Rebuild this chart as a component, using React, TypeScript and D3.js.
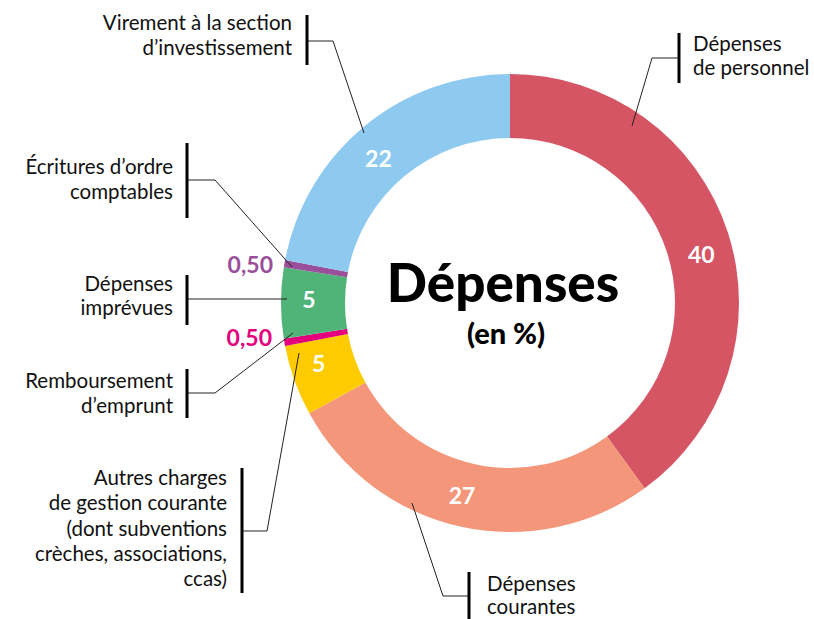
import React from "react";
import * as d3 from "d3";

// ---- data ----
const categories = [
  "Dépenses de personnel",
  "Dépenses courantes",
  "Autres charges de gestion courante",
  "Remboursement d’emprunt",
  "Dépenses imprévues",
  "Écritures d’ordre comptables",
  "Virement à la section d’investissement",
];
const values = [40, 27, 5, 0.5, 5, 0.5, 22];
const valueLabels = ["40", "27", "5", "0,50", "5", "0,50", "22"];
const colors = ["#d55564", "#f3967a", "#fecb00", "#e4007c", "#50b478", "#9a4f9b", "#8ecaf0"];

const callouts = [
  { lines: ["Virement à la section", "d’investissement"], anchor: "end", x: 292, base: [30, 55], bar: [307, 15, 65], leader: [[307, 41], [333, 41], [364, 133]] },
  { lines: ["Écritures d’ordre", "comptables"], anchor: "end", x: 173, base: [174, 199], bar: [187, 143, 218], leader: [[187, 180], [215, 180], [292, 267]] },
  { lines: ["Dépenses", "imprévues"], anchor: "end", x: 173, base: [291, 315], bar: [187, 275, 325], leader: [[187, 299], [287, 299]] },
  { lines: ["Remboursement", "d’emprunt"], anchor: "end", x: 173, base: [388, 413], bar: [187, 369, 418], leader: [[187, 393], [215, 393], [293, 333]] },
  { lines: ["Autres charges", "de gestion courante", "(dont subventions", "crèches, associations,", "ccas)"], anchor: "end", x: 227, base: [485, 510, 536, 561, 586], bar: [242, 468, 593], leader: [[242, 531], [267, 531], [299, 353]] },
  { lines: ["Dépenses", "courantes"], anchor: "start", x: 487, base: [591, 614], bar: [469, 572, 619], leader: [[469, 596], [443, 596], [412, 503]] },
  { lines: ["Dépenses", "de personnel"], anchor: "start", x: 693, base: [51, 75], bar: [679, 33, 83], leader: [[679, 58], [652, 58], [632, 126]] },
];

// outside small-value labels (index -> position)
const outsideLabels: Record<number, { x: number; y: number }> = {
  3: { x: 272, y: 346 },
  5: { x: 273, y: 273 },
};
const labelNudge: Record<number, [number, number]> = {
  0: [4, 13],
  1: [-5, 0],
  2: [-6, -6],
  4: [-4, -3],
  6: [-6, 7],
};

const W = 814;
const H = 619;
const CX = 510;
const CY = 303;
const R_OUT = 229;
const R_IN = 165;
const FONT = "Lato, 'Open Sans', sans-serif";

export default function App() {
  const pie = d3.pie<number>().sort(null).value((d) => d)(values);
  const arc = d3.arc<d3.PieArcDatum<number>>().innerRadius(R_IN).outerRadius(R_OUT);
  const labelArc = d3.arc<d3.PieArcDatum<number>>().innerRadius(197).outerRadius(197);
  const line = d3.line();

  return (
    <svg width={W} height={H} style={{ position: "absolute", left: 0, top: 0, background: "#fff" }} fontFamily={FONT}>
      <g transform={`translate(${CX},${CY})`}>
        {pie.map((p, i) => (
          <path key={categories[i]} d={arc(p) || ""} fill={colors[i]} />
        ))}
        {pie.map((p, i) => {
          if (outsideLabels[i]) return null;
          const [x, y] = labelArc.centroid(p);
          const n = labelNudge[i] || [0, 0];
          return (
            <text key={"v" + i} x={x + n[0]} y={y + n[1]} dy="0.36em" textAnchor="middle" fill="#fff" fontWeight={700} fontSize={23}>
              {valueLabels[i]}
            </text>
          );
        })}
      </g>
      {Object.keys(outsideLabels).map((k) => {
        const i = +k;
        const pos = outsideLabels[i];
        return (
          <text key={"o" + i} x={pos.x} y={pos.y} textAnchor="end" fill={colors[i]} fontWeight={700} fontSize={23}>
            {valueLabels[i]}
          </text>
        );
      })}
      <text x={CX - 7} y={302} textAnchor="middle" fontWeight={900} fontSize={53} fill="#000">
        Dépenses
      </text>
      <text x={CX - 4} y={344} textAnchor="middle" fontWeight={900} fontSize={29} fill="#000">
        (en %)
      </text>
      {callouts.map((c, ci) => (
        <g key={"c" + ci}>
          <path d={line(c.leader as [number, number][]) || ""} fill="none" stroke="#222" strokeWidth={1} />
          <line x1={c.bar[0]} x2={c.bar[0]} y1={c.bar[1]} y2={c.bar[2]} stroke="#000" strokeWidth={3} />
          {c.lines.map((t, li) => (
            <text key={li} x={c.x} y={c.base[li]} textAnchor={c.anchor as any} fontSize={20.5} fill="#111">
              {t}
            </text>
          ))}
        </g>
      ))}
    </svg>
  );
}
